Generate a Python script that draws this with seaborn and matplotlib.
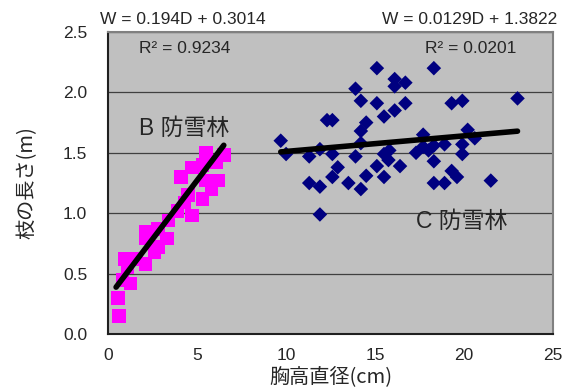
import numpy as np
import pandas as pd
import matplotlib
matplotlib.use("Agg")
import matplotlib.pyplot as plt
import seaborn as sns

# ---- data ----
b_dbh = [0.6, 0.55, 0.8, 1.25, 0.95, 1.6, 2.1, 1.1, 2.1, 2.6, 2.1, 2.8, 3.3, 3.4,
         3.9, 4.3, 4.7, 4.5, 5.3, 4.1, 4.7, 5.3, 5.5, 5.5, 6.5, 6.1, 6.2, 5.8, 2.8]
b_len = [0.15, 0.30, 0.45, 0.42, 0.62, 0.62, 0.58, 0.55, 0.85, 0.68, 0.79, 0.87, 0.79, 0.94,
         1.02, 1.09, 0.98, 1.15, 1.12, 1.30, 1.38, 1.40, 1.50, 1.27, 1.48, 1.42, 1.27, 1.20, 0.72]

c_dbh = [9.7, 10.0, 11.3, 11.3, 11.9, 11.9, 11.9, 12.3, 12.6, 12.6, 12.6, 12.9, 13.5,
         13.9, 13.9, 14.2, 14.2, 14.2, 14.2, 14.5, 14.5, 15.1, 15.1, 15.1, 15.5, 15.5,
         15.5, 15.8, 15.75, 16.1, 16.1, 16.1, 16.7, 16.7, 16.4, 17.3, 17.7, 17.7, 18.0,
         18.3, 18.3, 18.3, 18.3, 18.9, 18.9, 19.3, 19.9, 19.9, 19.9, 19.3, 19.6, 20.2,
         20.6, 21.5, 23.0]
c_len = [1.60, 1.49, 1.47, 1.25, 1.53, 1.22, 0.99, 1.77, 1.77, 1.49, 1.30, 1.38, 1.25,
         2.03, 1.47, 1.93, 1.68, 1.58, 1.20, 1.75, 1.31, 2.20, 1.91, 1.39, 1.80, 1.49,
         1.30, 1.52, 1.44, 2.11, 2.05, 1.85, 2.08, 1.91, 1.39, 1.50, 1.65, 1.55, 1.52,
         1.56, 1.43, 2.20, 1.25, 1.57, 1.25, 1.91, 1.93, 1.57, 1.49, 1.35, 1.30, 1.69,
         1.62, 1.27, 1.95]

b_coef = [0.194, 0.3014]   # slope, intercept
c_coef = [0.0129, 1.3822]
b_r2 = 0.9234
c_r2 = 0.0201

x_ticks = [0, 5, 10, 15, 20, 25]
y_ticks = [0.0, 0.5, 1.0, 1.5, 2.0, 2.5]

# ---- plot ----
sns.set_style("white")
fam = ['Liberation Sans', 'Noto Sans CJK JP', 'DejaVu Sans']
jp = ['Noto Sans CJK JP', 'DejaVu Sans']
plt.rcParams['font.family'] = fam

fig = plt.figure(figsize=(5.81, 3.89), dpi=100)
ax = fig.add_axes([0.186, 0.141, 0.766, 0.777])
ax.set_facecolor('#C0C0C0')

ax.set_xlim(0, 25)
ax.set_ylim(0, 2.5)
ax.set_yticks(y_ticks)
ax.set_xticks(x_ticks)
ax.yaxis.grid(True, color='#404040', linewidth=0.9)
ax.set_axisbelow(True)

dfb = pd.DataFrame({'D': b_dbh, 'W': b_len})
dfc = pd.DataFrame({'D': c_dbh, 'W': c_len})

sns.scatterplot(data=dfb, x='D', y='W', marker='s', s=95, color='#FF00FF',
                edgecolor='none', ax=ax, zorder=3)
sns.scatterplot(data=dfc, x='D', y='W', marker='D', s=55, color='#000080',
                edgecolor='none', ax=ax, zorder=3)

# trendlines
xb = np.array([min(b_dbh) - 0.1, max(b_dbh)])
xc = np.array([min(c_dbh), max(c_dbh)])
sns.lineplot(x=xb, y=b_coef[0] * xb + b_coef[1], color='black', linewidth=4,
             ax=ax, zorder=4, solid_capstyle='round')
sns.lineplot(x=xc, y=c_coef[0] * xc + c_coef[1], color='black', linewidth=4,
             ax=ax, zorder=4, solid_capstyle='round')

ax.set_xlabel('胸高直径(cm)', fontsize=14.5, labelpad=2, family=jp)
ax.set_ylabel('枝の長さ(m)', fontsize=14.5, labelpad=18, family=jp)
ax.set_yticklabels([f'{v:.1f}' for v in y_ticks])
ax.tick_params(axis='x', direction='in', length=4, labelsize=12.5, pad=10, color='#404040')
ax.tick_params(axis='y', length=0, labelsize=12.5, pad=15)

for s in ['top', 'right']:
    ax.spines[s].set_color('#808080')
    ax.spines[s].set_linewidth(1.5)
for s in ['left', 'bottom']:
    ax.spines[s].set_color('#202020')
    ax.spines[s].set_linewidth(1.5)

ax.text(-0.45, 2.6, f'W = {b_coef[0]}D + {b_coef[1]}', fontsize=12.5, ha='left', va='center',
        clip_on=False)
ax.text(25.25, 2.6, f'W = {c_coef[0]}D + {c_coef[1]}', fontsize=12.5, ha='right', va='center',
        clip_on=False)
ax.text(1.75, 2.36, f'R² = {b_r2}', fontsize=12.5, ha='left', va='center')
ax.text(17.8, 2.36, f'R² = {c_r2}', fontsize=12.5, ha='left', va='center')
ax.text(1.75, 1.7, 'B 防雪林', fontsize=16.5, ha='left', va='center', family=fam)
ax.text(17.3, 0.93, 'C 防雪林', fontsize=16.5, ha='left', va='center', family=fam)

fig.savefig('out.png', dpi=100, facecolor='white')
